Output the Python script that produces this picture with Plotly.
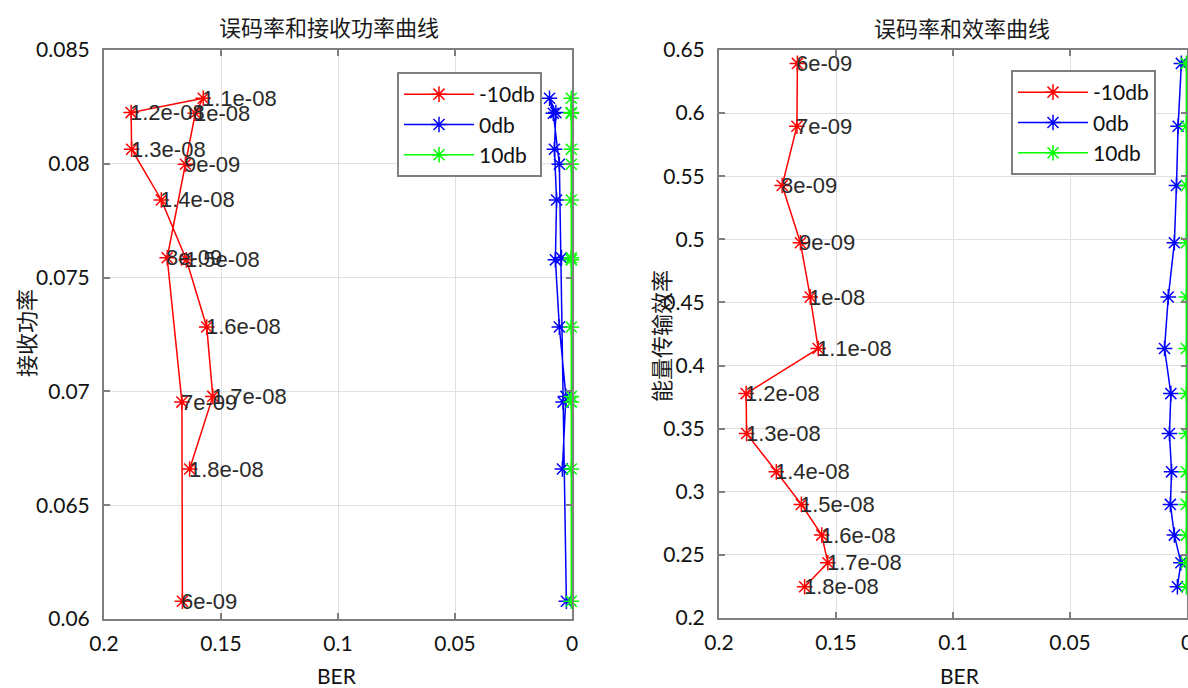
import plotly.graph_objects as go

# ---------------- data ----------------
param_labels = ["6e-09", "7e-09", "8e-09", "9e-09", "1e-08", "1.1e-08", "1.2e-08",
                "1.3e-08", "1.4e-08", "1.5e-08", "1.6e-08", "1.7e-08", "1.8e-08"]

received_power = [0.06078, 0.06953, 0.07587, 0.07998, 0.08222, 0.08288, 0.08225,
                  0.08064, 0.07841, 0.07578, 0.07283, 0.06978, 0.06659]

efficiency = [0.6394, 0.5896, 0.5426, 0.4973, 0.4543, 0.4135, 0.3778,
              0.3462, 0.3158, 0.2900, 0.2657, 0.2438, 0.2248]

ber_m10db = [0.1665, 0.1667, 0.1730, 0.1652, 0.1610, 0.1576, 0.1884,
             0.1882, 0.1755, 0.1648, 0.1561, 0.1535, 0.1634]
ber_0db = [0.0024, 0.0038, 0.0045, 0.0054, 0.0080, 0.0096, 0.0069,
           0.0075, 0.0066, 0.0071, 0.0054, 0.0026, 0.0041]
ber_10db = [0.0003, 0.0003, 0.0003, 0.0003, 0.0003, 0.0003, 0.0003,
            0.0003, 0.0003, 0.0003, 0.0003, 0.0003, 0.0003]

series_names = ["-10db", "0db", "10db"]
series_colors = ["#ff0000", "#0000ff", "#00ff00"]
series_ber = [ber_m10db, ber_0db, ber_10db]

x_tickvals = [0.2, 0.15, 0.1, 0.05, 0]
x_ticktext = ["0.2", "0.15", "0.1", "0.05", "0"]
y1_tickvals = [0.06, 0.065, 0.07, 0.075, 0.08, 0.085]
y1_ticktext = ["0.06", "0.065", "0.07", "0.075", "0.08", "0.085"]
y2_tickvals = [0.2, 0.25, 0.3, 0.35, 0.4, 0.45, 0.5, 0.55, 0.6, 0.65]
y2_ticktext = ["0.2", "0.25", "0.3", "0.35", "0.4", "0.45", "0.5", "0.55", "0.6", "0.65"]

title_left = "误码率和接收功率曲线"
title_right = "误码率和效率曲线"
ylabel_left = "接收功率"
ylabel_right = "能量传输效率"
xlabel = "BER"

# ---------------- figure ----------------
W, H = 1188, 688
TICK_FONT = dict(family="Lato, Liberation Sans, sans-serif", size=21, color="#111111")
CJK_FONT = dict(family="Noto Sans CJK SC, sans-serif", size=22, color="#1a1a1a")
LABEL_FONT = dict(family="Liberation Sans, Arial, sans-serif", size=22, color="#2a2a2a")

fig = go.Figure()

for name, color, ber in zip(series_names, series_colors, series_ber):
    common = dict(
        mode="lines+markers",
        name=name,
        line=dict(color=color, width=1.5),
        marker=dict(symbol="asterisk-open", size=13, color=color,
                    line=dict(color=color, width=1.5)),
        cliponaxis=False,
    )
    fig.add_trace(go.Scatter(x=ber, y=received_power, xaxis="x", yaxis="y",
                             legend="legend", **common))
    fig.add_trace(go.Scatter(x=ber, y=efficiency, xaxis="x2", yaxis="y2",
                             legend="legend2", **common))

annotations = []
for lab, bx, p, e in zip(param_labels, ber_m10db, received_power, efficiency):
    annotations.append(dict(x=bx, y=p, xref="x", yref="y", text=lab, showarrow=False,
                            xanchor="left", yanchor="middle", xshift=-3, font=LABEL_FONT))
    annotations.append(dict(x=bx, y=e, xref="x2", yref="y2", text=lab, showarrow=False,
                            xanchor="left", yanchor="middle", xshift=-3, font=LABEL_FONT))

BER_FONT = dict(family="Lato, sans-serif", size=21, color="#111111")
annotations += [
    dict(x=329 / W, y=1 - 26 / H, xref="paper", yref="paper", text=title_left,
         showarrow=False, xanchor="center", yanchor="middle", font=CJK_FONT),
    dict(x=962 / W, y=1 - 27 / H, xref="paper", yref="paper", text=title_right,
         showarrow=False, xanchor="center", yanchor="middle", font=CJK_FONT),
    dict(x=25 / W, y=1 - 333 / H, xref="paper", yref="paper", text=ylabel_left,
         showarrow=False, xanchor="center", yanchor="middle", textangle=-90, font=CJK_FONT),
    dict(x=660 / W, y=1 - 336 / H, xref="paper", yref="paper", text=ylabel_right,
         showarrow=False, xanchor="center", yanchor="middle", textangle=-90, font=CJK_FONT),
    dict(x=337 / W, y=1 - 675 / H, xref="paper", yref="paper", text=xlabel,
         showarrow=False, xanchor="center", yanchor="middle", font=BER_FONT, borderpad=0),
    dict(x=960 / W, y=1 - 675 / H, xref="paper", yref="paper", text=xlabel,
         showarrow=False, xanchor="center", yanchor="middle", font=BER_FONT, borderpad=0),
]

axis_common = dict(
    showgrid=True, gridcolor="#e0e0e0", gridwidth=1,
    showline=True, linecolor="#7f7f7f", linewidth=2, mirror="ticks",
    ticks="inside", ticklen=6, tickwidth=1.5, tickcolor="#7f7f7f",
    tickfont=TICK_FONT, zeroline=False, automargin=False, tickmode="array",
    ticklabeloverflow="allow",
)

legend_common = dict(
    bgcolor="white", bordercolor="#7f7f7f", borderwidth=2,
    font=dict(family="Lato, sans-serif", size=21, color="#111111"),
    xanchor="left", yanchor="top", itemwidth=70, tracegroupgap=0,
)

fig.update_layout(
    width=W, height=H,
    margin=dict(l=0, r=0, t=0, b=0),
    paper_bgcolor="white", plot_bgcolor="white",
    showlegend=True,
    xaxis=dict(domain=[104 / W, 572 / W], range=[0.2, 0], anchor="y",
               tickvals=x_tickvals, ticktext=x_ticktext, ticklabelstandoff=5, **axis_common),
    yaxis=dict(domain=[1 - 619 / H, 1 - 50 / H], range=[0.06, 0.085], anchor="x",
               tickvals=y1_tickvals, ticktext=y1_ticktext, ticklabelstandoff=8, **axis_common),
    xaxis2=dict(domain=[719 / W, 1187 / W], range=[0.2, 0], anchor="y2",
                tickvals=x_tickvals, ticktext=x_ticktext, ticklabelstandoff=5, **axis_common),
    yaxis2=dict(domain=[1 - 618 / H, 1 - 50 / H], range=[0.2, 0.65], anchor="x2",
                tickvals=y2_tickvals, ticktext=y2_ticktext, ticklabelstandoff=8, **axis_common),
    legend=dict(x=397 / W, y=1 - 72 / H, **legend_common),
    legend2=dict(x=1011 / W, y=1 - 70 / H, **legend_common),
    annotations=annotations,
)

fig.write_html("out.html")
